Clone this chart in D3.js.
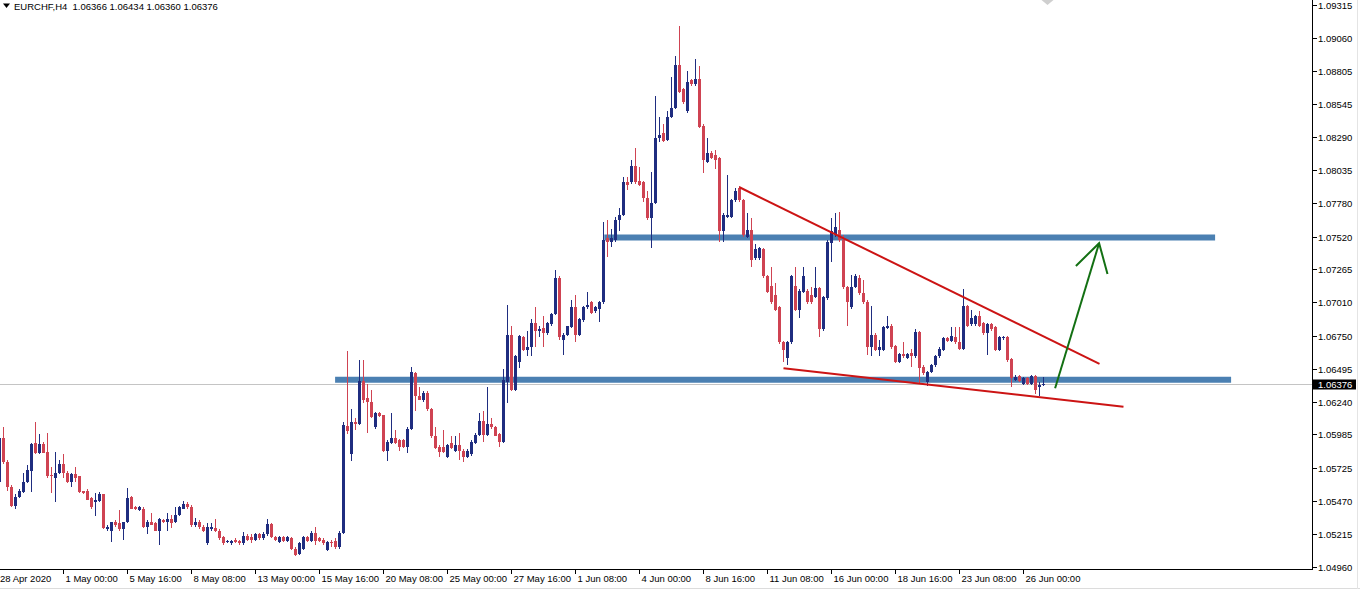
<!DOCTYPE html>
<html>
<head>
<meta charset="utf-8">
<script src="https://cdn.jsdelivr.net/npm/d3@7"></script>
<style>
  html, body { margin: 0; padding: 0; background: #ffffff; }
  svg { display: block; }
  text { font-family: "Liberation Sans", Arial, sans-serif; font-size: 9.5px; fill: #000; }
</style>
</head>
<body>
<svg id="chart" width="1360" height="591"></svg>
<script>
// ---------------- DATA ----------------
const symbol = "EURCHF";
const timeframe = "H4";

const timeLabels = ["28 Apr 2020","1 May 00:00","5 May 16:00","8 May 08:00","13 May 00:00","15 May 16:00",
  "20 May 08:00","25 May 00:00","27 May 16:00","1 Jun 08:00","4 Jun 00:00","8 Jun 16:00","11 Jun 08:00",
  "16 Jun 00:00","18 Jun 16:00","23 Jun 08:00","26 Jun 00:00"];
const timeLabelBars = [0,16,32,48,64,80,96,112,128,144,160,176,192,208,224,240,256];

const priceTicks = [1.09315,1.09060,1.08805,1.08545,1.08290,1.08035,1.07780,1.07520,1.07265,1.07010,
  1.06750,1.06495,1.06240,1.05985,1.05725,1.05470,1.05215,1.04960];

const open = [
1.0562,1.0596,1.0577,1.0558,1.0543,1.0550,1.0554,1.0562,1.0570,1.0592,
1.0584,1.0591,1.0585,1.0567,1.0565,1.0569,1.0576,1.0569,1.0562,1.0568,
1.0566,1.0555,1.0555,1.0549,1.0546,1.0547,1.0552,1.0525,1.0524,1.0531,
1.0530,1.0525,1.0531,1.0550,1.0542,1.0540,1.0541,1.0527,1.0531,1.0530,
1.0524,1.0532,1.0531,1.0533,1.0531,1.0536,1.0541,1.0545,1.0542,1.0528,
1.0531,1.0527,1.0514,1.0525,1.0526,1.0524,1.0519,1.0515,1.0514,1.0517,
1.0516,1.0514,1.0520,1.0519,1.0517,1.0521,1.0518,1.0521,1.0529,1.0519,
1.0515,1.0519,1.0516,1.0518,1.0510,1.0506,1.0510,1.0519,1.0516,1.0522,
1.0518,1.0517,1.0509,1.0515,1.0516,1.0511,1.0522,1.0605,1.0583,1.0608,
1.0607,1.0640,1.0627,1.0624,1.0604,1.0615,1.0614,1.0586,1.0592,1.0596,
1.0594,1.0594,1.0589,1.0603,1.0646,1.0628,1.0625,1.0631,1.0618,1.0597,
1.0589,1.0589,1.0581,1.0592,1.0586,1.0590,1.0586,1.0581,1.0583,1.0592,
1.0598,1.0609,1.0598,1.0607,1.0604,1.0599,1.0593,1.0639,1.0676,1.0633,
1.0655,1.0674,1.0664,1.0666,1.0685,1.0679,1.0681,1.0677,1.0684,1.0692,
1.0720,1.0672,1.0676,1.0682,1.0697,1.0676,1.0687,1.0697,1.0701,1.0694,
1.0696,1.0701,1.0751,1.0748,1.0749,1.0765,1.0769,1.0794,1.0794,1.0807,
1.0795,1.0794,1.0782,1.0766,1.0778,1.0828,1.0832,1.0827,1.0845,1.0852,
1.0885,1.0866,1.0849,1.0873,1.0870,1.0874,1.0838,1.0810,1.0817,1.0815,
1.0813,1.0756,1.0767,1.0767,1.0780,1.0790,1.0780,1.0752,1.0757,1.0735,
1.0735,1.0742,1.0721,1.0714,1.0707,1.0697,1.0670,1.0658,1.0670,1.0714,
1.0695,1.0709,1.0710,1.0707,1.0705,1.0712,1.0680,1.0704,1.0747,1.0754,
1.0757,1.0749,1.0713,1.0697,1.0713,1.0720,1.0708,1.0701,1.0666,1.0676,
1.0664,1.0664,1.0681,1.0683,1.0667,1.0655,1.0661,1.0658,1.0662,1.0659,
1.0678,1.0651,1.0639,1.0647,1.0652,1.0659,1.0664,1.0673,1.0671,1.0674,
1.0670,1.0665,1.0698,1.0684,1.0684,1.0690,1.0685,1.0677,1.0684,1.0682,
1.0664,1.0673,1.0674,1.0657,1.0641,1.0644,1.0638,1.0642,1.0638,1.0644,
1.0635,1.06366];

const high = [
1.0604,1.0604,1.0579,1.0559,1.0552,1.0556,1.0569,1.0575,1.0592,1.0608,
1.0599,1.0593,1.0600,1.0573,1.0585,1.0579,1.0583,1.0570,1.0569,1.0573,
1.0566,1.0555,1.0556,1.0550,1.0553,1.0554,1.0552,1.0528,1.0531,1.0532,
1.0540,1.0531,1.0557,1.0551,1.0543,1.0543,1.0542,1.0532,1.0538,1.0531,
1.0534,1.0533,1.0538,1.0536,1.0542,1.0543,1.0547,1.0546,1.0544,1.0534,
1.0532,1.0528,1.0530,1.0530,1.0533,1.0525,1.0520,1.0517,1.0517,1.0518,
1.0517,1.0523,1.0521,1.0521,1.0522,1.0522,1.0523,1.0533,1.0530,1.0520,
1.0520,1.0520,1.0520,1.0519,1.0511,1.0515,1.0520,1.0520,1.0524,1.0527,
1.0519,1.0518,1.0516,1.0517,1.0518,1.0524,1.0608,1.0663,1.0618,1.0611,
1.0656,1.0656,1.0638,1.0633,1.0616,1.0616,1.0614,1.0594,1.0615,1.0602,
1.0595,1.0595,1.0604,1.0651,1.0647,1.0635,1.0632,1.0632,1.0619,1.0604,
1.0590,1.0602,1.0591,1.0597,1.0597,1.0600,1.0587,1.0587,1.0594,1.0600,
1.0615,1.0617,1.0635,1.0611,1.0605,1.0600,1.0649,1.0699,1.0683,1.0660,
1.0676,1.0675,1.0679,1.0688,1.0697,1.0683,1.0690,1.0686,1.0693,1.0726,
1.0721,1.0677,1.0683,1.0703,1.0707,1.0689,1.0698,1.0709,1.0702,1.0698,
1.0702,1.0763,1.0765,1.0758,1.0767,1.0774,1.0798,1.0798,1.0811,1.0821,
1.0806,1.0795,1.0787,1.0802,1.0861,1.0845,1.0839,1.0849,1.0876,1.0892,
1.0915,1.0867,1.0880,1.0874,1.0890,1.0884,1.0839,1.0828,1.0818,1.0819,
1.0814,1.0770,1.0800,1.0781,1.0790,1.0791,1.0781,1.0770,1.0766,1.0746,
1.0744,1.0743,1.0722,1.0728,1.0716,1.0698,1.0671,1.0671,1.0722,1.0728,
1.0711,1.0728,1.0711,1.0713,1.0728,1.0713,1.0706,1.0749,1.0766,1.0770,
1.0771,1.0753,1.0714,1.0722,1.0723,1.0722,1.0718,1.0703,1.0698,1.0677,
1.0672,1.0683,1.0690,1.0684,1.0668,1.0662,1.0670,1.0662,1.0665,1.0680,
1.0679,1.0652,1.0648,1.0653,1.0660,1.0666,1.0674,1.0674,1.0682,1.0682,
1.0682,1.0711,1.0699,1.0695,1.0691,1.0694,1.0686,1.0685,1.0685,1.0683,
1.0675,1.0675,1.0675,1.0658,1.0645,1.0645,1.0643,1.0643,1.0645,1.0645,
1.0639,1.06434];

const low = [
1.0560,1.0576,1.0555,1.0542,1.0541,1.0549,1.0553,1.0561,1.0554,1.0583,
1.0583,1.0584,1.0565,1.0553,1.0546,1.0568,1.0565,1.0561,1.0558,1.0562,
1.0553,1.0552,1.0548,1.0541,1.0535,1.0546,1.0525,1.0524,1.0515,1.0527,
1.0524,1.0517,1.0530,1.0541,1.0540,1.0539,1.0526,1.0521,1.0528,1.0524,
1.0513,1.0530,1.0524,1.0526,1.0530,1.0535,1.0541,1.0541,1.0527,1.0527,
1.0525,1.0523,1.0513,1.0524,1.0523,1.0517,1.0513,1.0514,1.0513,1.0514,
1.0513,1.0513,1.0516,1.0514,1.0516,1.0517,1.0517,1.0520,1.0518,1.0516,
1.0514,1.0515,1.0515,1.0509,1.0504,1.0505,1.0509,1.0515,1.0515,1.0513,
1.0515,1.0513,1.0508,1.0511,1.0510,1.0510,1.0521,1.0599,1.0578,1.0602,
1.0606,1.0623,1.0600,1.0611,1.0603,1.0612,1.0585,1.0578,1.0591,1.0591,
1.0586,1.0588,1.0584,1.0602,1.0617,1.0625,1.0624,1.0617,1.0596,1.0587,
1.0581,1.0584,1.0580,1.0587,1.0585,1.0579,1.0577,1.0580,1.0582,1.0591,
1.0597,1.0593,1.0597,1.0603,1.0597,1.0589,1.0592,1.0623,1.0632,1.0632,
1.0650,1.0663,1.0659,1.0659,1.0666,1.0674,1.0666,1.0676,1.0683,1.0691,
1.0672,1.0660,1.0675,1.0681,1.0670,1.0675,1.0686,1.0696,1.0692,1.0693,
1.0686,1.0700,1.0736,1.0744,1.0748,1.0756,1.0768,1.0788,1.0793,1.0793,
1.0791,1.0779,1.0765,1.0743,1.0777,1.0825,1.0825,1.0826,1.0844,1.0851,
1.0863,1.0855,1.0848,1.0869,1.0869,1.0836,1.0801,1.0809,1.0812,1.0804,
1.0748,1.0748,1.0766,1.0766,1.0779,1.0779,1.0752,1.0751,1.0728,1.0734,
1.0734,1.0720,1.0708,1.0700,1.0694,1.0669,1.0655,1.0652,1.0669,1.0694,
1.0689,1.0708,1.0700,1.0700,1.0704,1.0674,1.0679,1.0703,1.0732,1.0752,
1.0748,1.0711,1.0683,1.0696,1.0712,1.0707,1.0700,1.0660,1.0659,1.0663,
1.0659,1.0663,1.0680,1.0665,1.0654,1.0654,1.0658,1.0657,1.0651,1.0658,
1.0638,1.0645,1.0636,1.0646,1.0651,1.0658,1.0663,1.0670,1.0670,1.0669,
1.0664,1.0664,1.0682,1.0683,1.0683,1.0682,1.0676,1.0660,1.0679,1.0663,
1.0663,1.0672,1.0655,1.0635,1.0640,1.0639,1.0637,1.0637,1.0637,1.0630,
1.0628,1.06360];

const close = [
1.0596,1.0577,1.0558,1.0543,1.0550,1.0555,1.0562,1.0571,1.0591,1.0584,
1.0591,1.0584,1.0566,1.0566,1.0569,1.0576,1.0569,1.0562,1.0568,1.0565,
1.0554,1.0553,1.0548,1.0542,1.0548,1.0552,1.0526,1.0527,1.0531,1.0528,
1.0525,1.0531,1.0549,1.0541,1.0541,1.0542,1.0527,1.0531,1.0528,1.0524,
1.0533,1.0531,1.0533,1.0530,1.0536,1.0542,1.0545,1.0542,1.0528,1.0531,
1.0527,1.0524,1.0527,1.0527,1.0524,1.0518,1.0514,1.0516,1.0516,1.0515,
1.0514,1.0520,1.0517,1.0517,1.0521,1.0518,1.0521,1.0529,1.0519,1.0517,
1.0519,1.0516,1.0519,1.0510,1.0505,1.0514,1.0519,1.0516,1.0522,1.0516,
1.0516,1.0514,1.0515,1.0514,1.0511,1.0522,1.0606,1.0601,1.0608,1.0607,
1.0640,1.0625,1.0624,1.0612,1.0615,1.0613,1.0586,1.0593,1.0596,1.0592,
1.0589,1.0589,1.0603,1.0647,1.0628,1.0625,1.0631,1.0618,1.0597,1.0588,
1.0585,1.0585,1.0590,1.0588,1.0590,1.0586,1.0581,1.0586,1.0593,1.0598,
1.0609,1.0598,1.0607,1.0604,1.0597,1.0593,1.0641,1.0676,1.0633,1.0659,
1.0675,1.0664,1.0666,1.0685,1.0679,1.0680,1.0677,1.0685,1.0692,1.0720,
1.0674,1.0676,1.0683,1.0697,1.0676,1.0688,1.0697,1.0699,1.0693,1.0697,
1.0701,1.0749,1.0748,1.0751,1.0765,1.0769,1.0794,1.0792,1.0807,1.0794,
1.0792,1.0782,1.0766,1.0778,1.0828,1.0831,1.0826,1.0845,1.0852,1.0885,
1.0864,1.0856,1.0872,1.0870,1.0874,1.0837,1.0811,1.0817,1.0813,1.0811,
1.0756,1.0769,1.0769,1.0780,1.0787,1.0780,1.0753,1.0757,1.0734,1.0742,
1.0743,1.0721,1.0709,1.0701,1.0695,1.0670,1.0664,1.0670,1.0721,1.0695,
1.0710,1.0721,1.0701,1.0701,1.0712,1.0680,1.0705,1.0748,1.0756,1.0759,
1.0749,1.0713,1.0701,1.0713,1.0721,1.0708,1.0701,1.0666,1.0676,1.0664,
1.0666,1.0682,1.0683,1.0666,1.0655,1.0661,1.0659,1.0661,1.0659,1.0678,
1.0650,1.0646,1.0647,1.0652,1.0659,1.0665,1.0673,1.0671,1.0675,1.0670,
1.0665,1.0698,1.0683,1.0689,1.0690,1.0683,1.0677,1.0684,1.0680,1.0664,
1.0674,1.0674,1.0656,1.0642,1.0643,1.0640,1.0642,1.0638,1.0644,1.0633,
1.0637,1.06376];

// drawn objects (bar index, price)
const levelPrice = [1.07513, 1.06410];
const levelStartBar = [151.2, 83.9];
const levelEndBar = [303.9, 307.9];

const trendStart = [[185.0, 1.07902], [196.0, 1.06499]];
const trendEnd   = [[275.0, 1.06532], [281.0, 1.06201]];

const arrowShaft = [[263.9, 1.06344], [274.9, 1.07468]];
const arrowHead  = [[269.1, 1.07292], [274.9, 1.07468], [277.0, 1.07230]];

// ---------------- CHART ----------------
const svg = d3.select("#chart");
const W = 1360, H = 591;
const axisX = 1312.5, axisY = 569.5;

const x = d3.scaleLinear().domain([0, 328]).range([-0.5, 1311.5]);
const y = d3.scaleLinear().domain([1.04960, 1.09315]).range([566.7, 5]);

const bullColor = "#1f2d80", bearColor = "#cf4352";

svg.append("rect").attr("width", W).attr("height", H).attr("fill", "#ffffff");

// window borders
svg.append("line").attr("x1", 0).attr("x2", W).attr("y1", 588.5).attr("y2", 588.5)
  .attr("stroke", "#dcdcdc");
svg.append("line").attr("x1", 1357.5).attr("x2", 1357.5).attr("y1", 0).attr("y2", 589)
  .attr("stroke", "#e4e4e4");

const defs = svg.append("defs");
defs.append("clipPath").attr("id", "plotClip").append("rect")
  .attr("x", 0).attr("y", 0).attr("width", axisX).attr("height", axisY);

const plot = svg.append("g").attr("clip-path", "url(#plotClip)");

const lastClose = close[close.length - 1];
// current price line
plot.append("line")
  .attr("x1", 0).attr("x2", axisX)
  .attr("y1", Math.round(y(lastClose)) + 0.5).attr("y2", Math.round(y(lastClose)) + 0.5)
  .attr("stroke", "#c4c4c4").attr("stroke-width", 1);

// horizontal levels
levelPrice.forEach((p, k) => {
  plot.append("line")
    .attr("x1", x(levelStartBar[k])).attr("x2", x(levelEndBar[k]))
    .attr("y1", y(p)).attr("y2", y(p))
    .attr("stroke", "#4b80b2").attr("stroke-width", 6);
});

// candles
const bars = d3.range(open.length).map(i => ({i, o: open[i], h: high[i], l: low[i], c: close[i]}));
const cg = plot.append("g").attr("shape-rendering", "crispEdges");
cg.selectAll("rect.wick").data(bars).join("rect")
  .attr("class", "wick")
  .attr("x", d => x(d.i) - 0.5).attr("width", 1)
  .attr("y", d => y(d.h)).attr("height", d => Math.max(1, y(d.l) - y(d.h)))
  .attr("fill", d => d.c >= d.o ? bullColor : bearColor);
cg.selectAll("rect.body").data(bars).join("rect")
  .attr("class", "body")
  .attr("x", d => x(d.i) - 1.5).attr("width", 3)
  .attr("y", d => y(Math.max(d.o, d.c)))
  .attr("height", d => Math.max(1, Math.abs(y(d.o) - y(d.c))))
  .attr("fill", d => d.c >= d.o ? bullColor : bearColor);

// trend lines
trendStart.forEach((s, k) => {
  plot.append("line")
    .attr("x1", x(s[0])).attr("y1", y(s[1]))
    .attr("x2", x(trendEnd[k][0])).attr("y2", y(trendEnd[k][1]))
    .attr("stroke", "#cc1414").attr("stroke-width", 2);
});

// arrow
const lineGen = d3.line().x(d => x(d[0])).y(d => y(d[1]));
plot.append("path").attr("d", lineGen(arrowShaft))
  .attr("fill", "none").attr("stroke", "#137013").attr("stroke-width", 2);
plot.append("path").attr("d", lineGen(arrowHead))
  .attr("fill", "none").attr("stroke", "#137013").attr("stroke-width", 2)
  .attr("stroke-linejoin", "miter");

// chart shift marker
svg.append("path")
  .attr("d", `M${x(262) - 6},0 L${x(262) + 6},0 L${x(262)},5 Z`)
  .attr("fill", "#cfcfcf");

// axes lines
svg.append("path")
  .attr("d", `M${axisX},0 V${axisY} H0`)
  .attr("fill", "none").attr("stroke", "#000").attr("stroke-width", 1)
  .attr("shape-rendering", "crispEdges");

// price scale
const yt = svg.append("g");
priceTicks.forEach(v => {
  const yy = Math.round(y(v)) + 0.5;
  yt.append("line").attr("x1", axisX).attr("x2", axisX + 4).attr("y1", yy).attr("y2", yy)
    .attr("stroke", "#000").attr("shape-rendering", "crispEdges");
  yt.append("text").attr("x", 1318).attr("y", yy).attr("dy", "0.35em").text(v.toFixed(5));
});

// current price label
const cy = Math.round(y(lastClose)) + 0.5;
svg.append("rect").attr("x", 1313).attr("y", cy - 5).attr("width", 43).attr("height", 10).attr("fill", "#000");
svg.append("text").attr("x", 1318).attr("y", cy).attr("dy", "0.35em")
  .style("fill", "#fff").text(lastClose.toFixed(5));

// time scale
const xt = svg.append("g");
timeLabelBars.forEach((b, k) => {
  const xx = Math.round(x(b) - 0.5) + 0.5;
  if (k > 0) {
    xt.append("line").attr("x1", xx).attr("x2", xx).attr("y1", axisY).attr("y2", axisY + 4.5)
      .attr("stroke", "#000").attr("shape-rendering", "crispEdges");
  }
  xt.append("text").attr("x", k === 0 ? 0 : xx + 2).attr("y", 582).text(timeLabels[k]);
});

// title
const n = open.length - 1;
svg.append("path").attr("d", "M3,3.5 L10,3.5 L6.5,8 Z").attr("fill", "#000");
svg.append("text").attr("x", 14).attr("y", 9.5).attr("xml:space", "preserve")
  .style("white-space", "pre")
  .text(`${symbol},${timeframe}  ${open[n].toFixed(5)} ${high[n].toFixed(5)} ${low[n].toFixed(5)} ${close[n].toFixed(5)}`);
</script>
</body>
</html>
